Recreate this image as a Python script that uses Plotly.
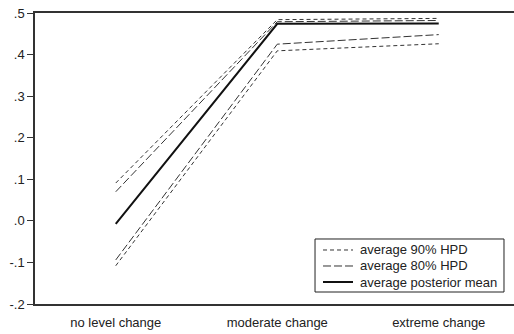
import plotly.graph_objects as go

# Categories on the x axis
categories = ["no level change", "moderate change", "extreme change"]

# Average posterior mean and HPD interval bounds
posterior_mean = [-0.007, 0.474, 0.475]
hpd90_upper = [0.091, 0.484, 0.487]
hpd90_lower = [-0.108, 0.409, 0.426]
hpd80_upper = [0.070, 0.479, 0.482]
hpd80_lower = [-0.094, 0.425, 0.448]

# Y tick values and labels
y_ticks = [-0.2, -0.1, 0.0, 0.1, 0.2, 0.3, 0.4, 0.5]
y_labels = ["-.2", "-.1", ".0", ".1", ".2", ".3", ".4", ".5"]

# Legend entries: label, dash pattern, colour, width
legend_items = [
    ("average 90% HPD", "4px,3px", "#333333", 1),
    ("average 80% HPD", "8px,3px", "#333333", 1),
    ("average posterior mean", "solid", "#111111", 2),
]

x_pos = list(range(len(categories)))
fig = go.Figure()

def band(values, dash, color, width):
    fig.add_trace(go.Scatter(
        x=x_pos, y=values, mode="lines", showlegend=False, hoverinfo="skip",
        line=dict(color=color, width=width, dash=dash),
    ))

band(hpd90_upper, legend_items[0][1], legend_items[0][2], 1)
band(hpd90_lower, legend_items[0][1], legend_items[0][2], 1)
band(hpd80_upper, legend_items[1][1], legend_items[1][2], 1)
band(hpd80_lower, legend_items[1][1], legend_items[1][2], 1)
band(posterior_mean, legend_items[2][1], legend_items[2][2], 2)

# Compact framed key in the lower right of the plot area
shapes = [dict(type="rect", xref="paper", yref="paper",
               x0=0.5846, x1=0.9791, y0=0.0412, y1=0.2234,
               line=dict(color="#222", width=1), fillcolor="white", layer="above")]
annotations = []
row_y = [0.1856, 0.1306, 0.0756]
for (label, dash, color, width), yy in zip(legend_items, row_y):
    shapes.append(dict(type="line", xref="paper", yref="paper",
                       x0=0.6013, x1=0.6639, y0=yy, y1=yy, layer="above",
                       line=dict(color=color, width=width, dash=dash)))
    annotations.append(dict(xref="paper", yref="paper", x=0.6743, y=yy,
                            xanchor="left", yanchor="middle", showarrow=False,
                            text=label, font=dict(size=13, color="#222")))

fig.update_layout(
    width=514, height=334,
    margin=dict(l=35, r=0, t=13, b=30),
    paper_bgcolor="white", plot_bgcolor="white",
    font=dict(family="Liberation Sans, Arial, sans-serif", size=13, color="#222"),
    showlegend=False,
    shapes=shapes, annotations=annotations,
    xaxis=dict(
        range=[-0.5, 2.466], tickmode="array", tickvals=x_pos, ticktext=categories,
        showline=True, linecolor="#333", linewidth=1.5, mirror=True,
        showgrid=False, zeroline=False, ticks="", ticklabelstandoff=6,
    ),
    yaxis=dict(
        range=[-0.2, 0.5], tickmode="array", tickvals=y_ticks, ticktext=y_labels,
        showline=True, linecolor="#333", linewidth=1.5,
        showgrid=False, zeroline=False, ticks="outside", ticklen=6,
        tickcolor="#333", tickwidth=1,
    ),
)

fig.write_html("out.html")
